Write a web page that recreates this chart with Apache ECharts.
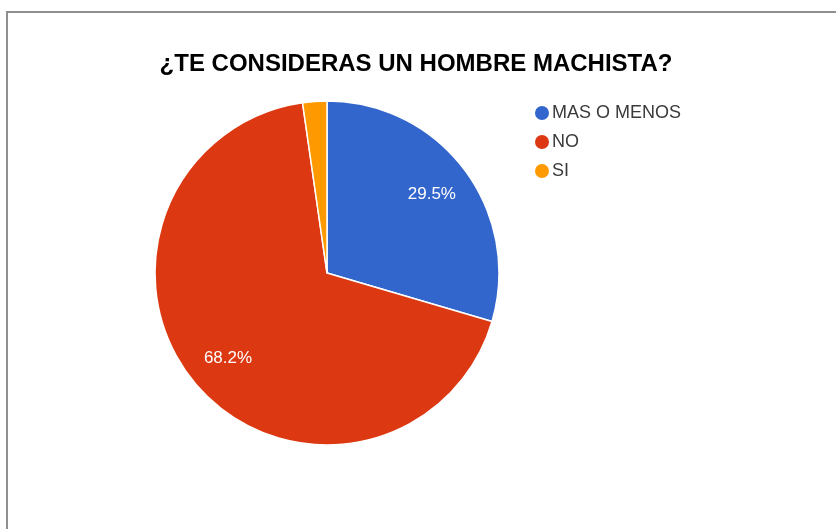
<!DOCTYPE html>
<html>
<head>
<meta charset="utf-8">
<script src="https://cdn.jsdelivr.net/npm/echarts@6/dist/echarts.min.js"></script>
<style>
  html, body { margin: 0; padding: 0; background: #fff; }
  #chart { width: 836px; height: 529px; position: absolute; left: 0; top: 0; }
  #frame { position: absolute; left: 6px; top: 11px; width: 840px; height: 530px;
           border-left: 2px solid #8f8f8f; border-top: 2px solid #8f8f8f; pointer-events: none; }
</style>
</head>
<body>
<div id="chart"></div>
<div id="frame"></div>
<script>
const titleText = '¿TE CONSIDERAS UN HOMBRE MACHISTA?';
const categories = ['MAS O MENOS', 'NO', 'SI'];
const counts = [13, 30, 1];
const colors = ['#3366cc', '#dc3912', '#ff9900'];
const showLabel = [true, true, false];

const chart = echarts.init(document.getElementById('chart'));
const font = '"Liberation Sans", Arial, sans-serif';

chart.setOption({
  animation: false,
  color: colors,
  title: {
    text: titleText,
    left: 411, top: 47, textAlign: 'center',
    textStyle: { fontFamily: font, fontWeight: 'bold', fontSize: 24, color: '#000' }
  },
  legend: {
    orient: 'vertical',
    left: 528, top: 99,
    icon: 'circle',
    itemWidth: 16, itemHeight: 16,
    itemGap: 11,
    data: categories,
    textStyle: { fontFamily: font, fontSize: 18, color: '#3a3a3a', padding: [0, 0, 0, -3] }
  },
  series: [
    {
      type: 'pie',
      center: [327, 273],
      radius: [0, 172],
      startAngle: 90,
      clockwise: true,
      label: { show: false },
      labelLine: { show: false },
      itemStyle: { borderColor: '#fff', borderWidth: 1.5 },
      emphasis: { disabled: true },
      data: categories.map((c, i) => ({ name: c, value: counts[i] }))
    },
    {
      type: 'pie',
      center: [327, 273],
      radius: [100, 156],
      startAngle: 90,
      clockwise: true,
      silent: true,
      percentPrecision: 1,
      itemStyle: { color: 'rgba(0,0,0,0)', borderWidth: 0 },
      emphasis: { disabled: true },
      labelLine: { show: false },
      label: {
        show: true, position: 'inside', formatter: '{d}%',
        fontFamily: font, fontSize: 17, color: '#fff'
      },
      data: categories.map((c, i) => ({ name: c, value: counts[i], label: { show: showLabel[i] } }))
    }
  ]
});
</script>
</body>
</html>
